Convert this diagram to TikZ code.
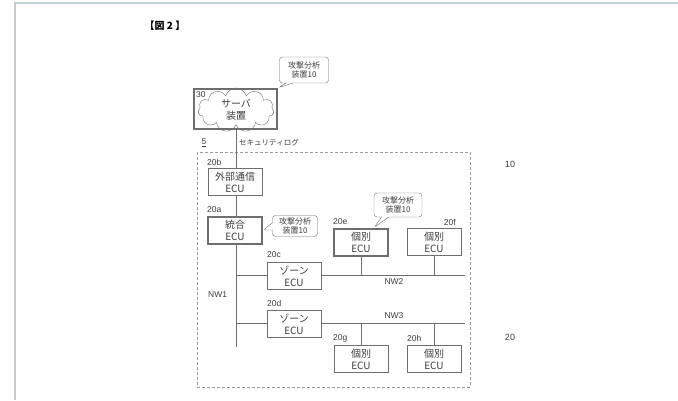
\documentclass[tikz,border=0pt]{standalone}
\usepackage{fontspec}
\setmainfont{Liberation Sans}
\newfontfamily\jp{Noto Sans CJK JP}
\usetikzlibrary{positioning,shapes.symbols,shapes.callouts}
\definecolor{pageframe}{RGB}{192,205,210}
\definecolor{ink}{RGB}{60,60,60}
\definecolor{wire}{RGB}{110,110,110}
\tikzset{
  ecu/.style={draw=wire,fill=white,minimum width=54,minimum height=27,align=center,inner sep=0pt,
    text=ink,font=\jp\fontsize{10}{12}\selectfont},
  mainecu/.style={ecu,line width=2pt},
  tag/.style={inner sep=0pt,text=ink,font=\fontsize{8.5}{10}\selectfont},
  balloon/.style={rectangle callout,draw=wire,fill=white,rounded corners=3pt,align=center,inner sep=0pt,
    minimum width=48,minimum height=24,text=ink,font=\jp\fontsize{8}{9.5}\selectfont},
  bus/.style={wire,line width=0.8pt}
}
\begin{document}
\begin{tikzpicture}[x=1pt,y=-1pt]
\useasboundingbox (0,0) rectangle (678,400);
\draw[pageframe,line width=2pt] (15,400) -- (15,3) -- (678,3);
\node[tag,text=black,font=\jp\bfseries\fontsize{10}{11}\selectfont] (fig) at (165,26) {【図 2 】};
\draw[wire!70,densely dashed,line width=0.6pt] (197,152) rectangle (470,387);
\node[tag] (sysno) at (204,143) {\underline{5}};
\node[tag,anchor=west,font=\jp\fontsize{7.5}{9}\selectfont] (log) at (239,143) {セキュリティログ};
\coordinate (nwtop) at (236,130);
\coordinate (nwbot) at (236,347);
\coordinate (nw2a) at (236,275);
\coordinate (nw2b) at (465,275);
\coordinate (nw3a) at (236,323);
\coordinate (nw3b) at (465,323);
\draw[bus] (nwtop) -- (nwbot);
\draw[bus] (nw2a) -- (nw2b);
\draw[bus] (nw3a) -- (nw3b);
\node[draw=wire,line width=2.5pt,fill=white,minimum width=83,minimum height=40] (srv) at (235.5,109) {};
\node[cloud,draw=wire,cloud puffs=11,aspect=2.4,minimum width=76,minimum height=31,inner sep=0pt,align=center,
  text=ink,font=\jp\fontsize{10}{12}\selectfont] (cloud) at (236,110) {サーバ\\装置};
\node[tag,anchor=west] (srvno) at (196,95) {30};
\node[mainecu] (cgw) at (235,230) {統合\\ECU};
\node[ecu] (gw) at (235,182) {外部通信\\ECU};
\node[ecu] (zc) at (294,276) {ゾーン\\ECU};
\node[ecu] (zd) at (294,324) {ゾーン\\ECU};
\node[mainecu] (ecue) at (361,242) {個別\\ECU};
\node[ecu] (ecuf) at (434,242) {個別\\ECU};
\node[ecu] (ecug) at (361,359) {個別\\ECU};
\node[ecu] (ecuh) at (434,359) {個別\\ECU};
\draw[bus] (ecue.south) -- (ecue.south |- nw2a);
\draw[bus] (ecuf.south) -- (ecuf.south |- nw2a);
\draw[bus] (ecug.north) -- (ecug.north |- nw3a);
\draw[bus] (ecuh.north) -- (ecuh.north |- nw3a);
\node[tag,anchor=west] at (207,162) {20b};
\node[tag,anchor=west] at (207,210) {20a};
\node[tag,anchor=west] at (267,255) {20c};
\node[tag,anchor=west] at (267,303) {20d};
\node[tag,anchor=west] at (333,222) {20e};
\node[tag,anchor=east] at (456,222) {20f};
\node[tag,anchor=west] at (333,338) {20g};
\node[tag,anchor=west] at (407,338) {20h};
\node[tag,anchor=west] (nw1) at (208,295) {NW1};
\node[tag] (nw2) at (394,282) {NW2};
\node[tag] (nw3) at (394,316) {NW3};
\node[balloon,minimum width=49,minimum height=26,callout absolute pointer={(srv.north east)}] (an1) at (304,70) {攻撃分析\\装置10};
\node[balloon,minimum width=45,minimum height=21,callout absolute pointer={(cgw.east)}] (an2) at (295,226) {攻撃分析\\装置10};
\node[balloon,callout absolute pointer={([xshift=13pt]ecue.north)}] (an3) at (398,205) {攻撃分析\\装置10};
\node[tag,font=\fontsize{9}{10}\selectfont\rmfamily] (ref10) at (510,164) {10};
\node[tag,font=\fontsize{9}{10}\selectfont\rmfamily] (ref20) at (510,337) {20};
\end{tikzpicture}
\end{document}
